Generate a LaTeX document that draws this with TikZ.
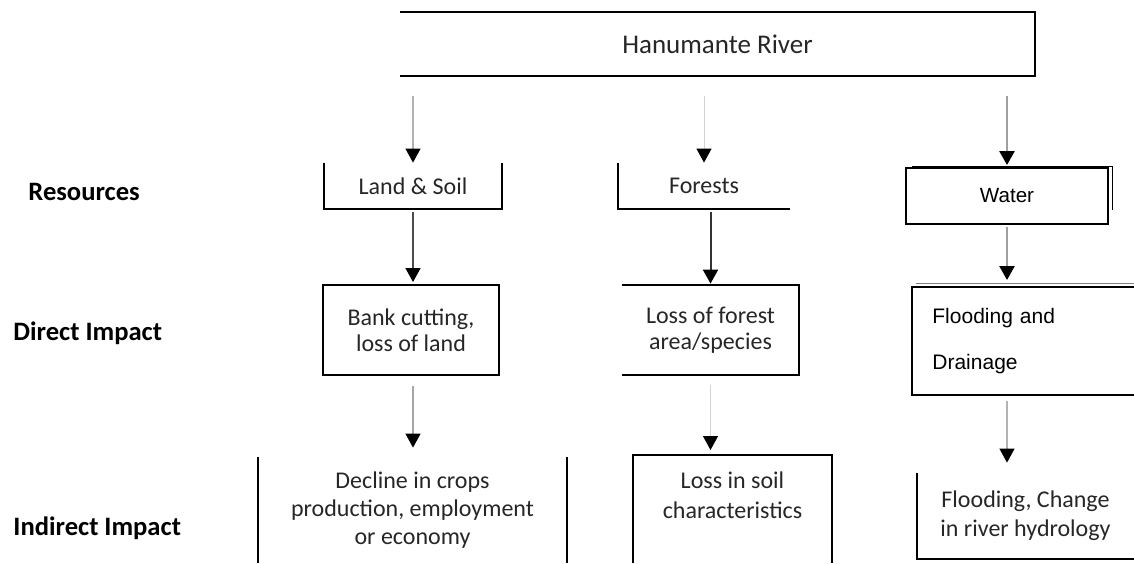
\documentclass[tikz,border=0pt]{standalone}
\usepackage{fontspec}
\setmainfont{Carlito}
\newfontfamily\arialfont{Liberation Sans}
\usetikzlibrary{arrows.meta}
\begin{document}
\begin{tikzpicture}[x=0.5pt,y=-0.5pt,
  box/.style={inner sep=0pt,align=center,font=\fontsize{12}{14}\selectfont,text=black!85},
  lbl/.style={anchor=west,inner sep=0pt,font=\fontsize{13.3}{15}\selectfont\bfseries},
  arr/.style={-{Triangle[width=7.5pt,length=7pt,color=black]}},
  rim/.style={line width=1pt}]
\useasboundingbox (0,0) rectangle (1134,563);
% row labels
\node[lbl] (res) at (28,192) {Resources};
\node[lbl] (direct) at (13,333) {Direct Impact};
\node[lbl] (indirect) at (13,528) {Indirect Impact};
% river
\node[box,minimum width=317.5pt,minimum height=32pt,font=\fontsize{13.5}{16}\selectfont] (river) at (717.5,44) {Hanumante River};
\draw[rim] (river.north west) -- (river.north east) -- (river.south east) -- (river.south west);
% resources
\node[box,minimum width=89pt,minimum height=23pt] (land) at (413,186) {Land \& Soil};
\draw[rim] (land.north west) |- (land.south east) -- (land.north east);
\node[box,minimum width=86pt,minimum height=23pt] (forests) at (704,186) {Forests};
\draw[rim] (forests.north west) |- (forests.south east);
\draw[thin] (1012,166) coordinate (wtop) -| (1112,210) coordinate (wside);
\draw[thin] (912,166) -- (wtop);
\node[box,draw,rim,fill=white,minimum width=101pt,minimum height=28pt,font=\arialfont\fontsize{10.3}{12}\selectfont,text=black] (water) at (1007,196) {Water};
% direct impact
\node[box,draw,rim,minimum width=88pt,minimum height=45pt,font=\fontsize{12}{13}\selectfont] (bank) at (411,330) {Bank cutting,\\loss of land};
\node[box,minimum width=88.5pt,minimum height=45pt,font=\fontsize{12}{13}\selectfont] (forestloss) at (710.5,330) {Loss of forest\\area/species};
\draw[rim] (forestloss.north west) -| (forestloss.south east) -- (forestloss.south west);
\node[box,anchor=north west,minimum width=111pt,minimum height=53.5pt,text width=91pt,inner xsep=10pt,align=left,font=\arialfont\fontsize{10.5}{23}\selectfont,text=black] (flood) at (912,287) {Flooding and\\Drainage};
\draw[rim] (flood.north east) -- (flood.north west) -- (flood.south west) -- (flood.south east);
\draw[gray,thin] ([shift={(4,-4)}]flood.north west) -- ([shift={(0,-4)}]flood.north east);
% indirect impact
\node[box,minimum width=154.5pt,minimum height=53pt] (decline) at (412.5,510) {Decline in crops\\production, employment\\or economy};
\draw[rim] (decline.north west) -- (decline.south west);
\draw[rim] (decline.north east) -- (decline.south east);
\node[box,anchor=north,minimum width=99.5pt,inner ysep=8pt,font=\fontsize{12}{15}\selectfont] (soil) at (732.5,455) {Loss in soil\\characteristics};
\draw[rim] (soil.north west |- decline.south) -- (soil.north west) -- (soil.north east) -- (soil.north east |- decline.south);
\node[box,minimum width=108.5pt,minimum height=43pt,font=\fontsize{12}{14.5}\selectfont] (change) at (1025.5,516) {Flooding, Change\\in river hydrology};
\draw[rim] (change.north west) -- (change.south west) -- (change.south east);
% arrows
\foreach \a/\b/\p/\c/\w/\s/\e in {
  river/land/land/gray!60/0.6pt/10pt/0pt,
  river/forests/forests/gray!35/0.5pt/10pt/0pt,
  river/water/water/gray!75/1.3pt/10pt/1pt,
  land/bank/land/black!70/0.8pt/1.5pt/1pt,
  forests/forestloss/forestloss/black!80/1pt/1.5pt/0.5pt,
  water/flood/water/gray!75/1.3pt/1pt/3.5pt,
  bank/decline/land/gray!70/0.6pt/5pt/4.5pt,
  forestloss/soil/forestloss/gray!35/0.6pt/5pt/2.5pt,
  flood/change/water/gray!60/0.6pt/3pt/5pt} {
  \draw[arr,\c,line width=\w,shorten <=\s,shorten >=\e] (\a.south -| \p.north) -- (\b.north -| \p.north);
}
\end{tikzpicture}
\end{document}
